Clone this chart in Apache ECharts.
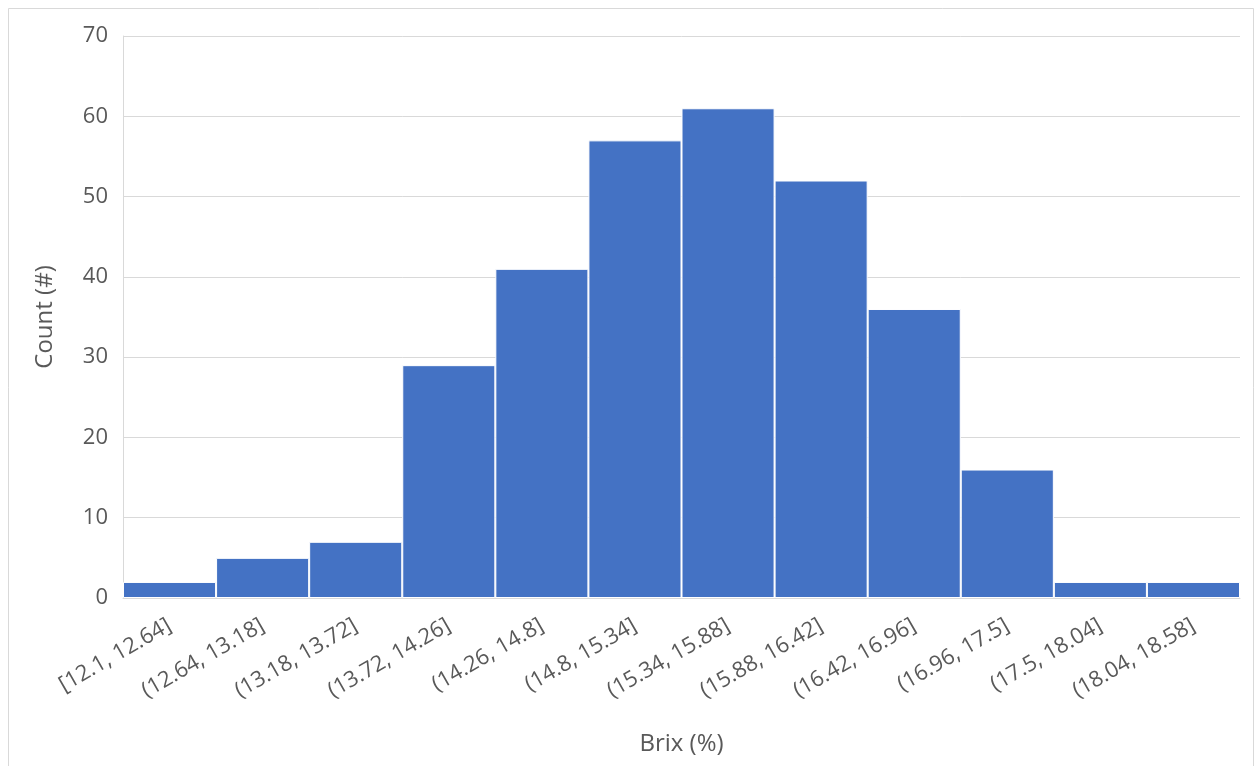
<!DOCTYPE html>
<html>
<head>
<meta charset="utf-8">
<script src="https://cdn.jsdelivr.net/npm/echarts@6/dist/echarts.min.js"></script>
<style>
  html, body { margin: 0; padding: 0; background: #fff; }
  #plot { width: 1255px; height: 766px; }
</style>
</head>
<body>
<div id="plot"></div>
<script>
// histogram bins (Brix %) and counts
var bins = ['[12.1, 12.64]', '(12.64, 13.18]', '(13.18, 13.72]', '(13.72, 14.26]',
  '(14.26, 14.8]', '(14.8, 15.34]', '(15.34, 15.88]', '(15.88, 16.42]',
  '(16.42, 16.96]', '(16.96, 17.5]', '(17.5, 18.04]', '(18.04, 18.58]'];
var counts = [2, 5, 7, 29, 41, 57, 61, 52, 36, 16, 2, 2];

var textColor = '#595959';
var font = '"Open Sans", "Noto Sans", sans-serif';

var myChart = echarts.init(document.getElementById('plot'));

var option = {
  animation: false,
  backgroundColor: '#fff',
  textStyle: { fontFamily: font },
  graphic: [{
    type: 'rect',
    shape: { x: 8.5, y: 8.5, width: 1245, height: 770 },
    style: { fill: 'none', stroke: '#d9d9d9', lineWidth: 1 },
    silent: true
  }],
  grid: { left: 123, right: 15, top: 36, bottom: 168 },
  xAxis: {
    type: 'category',
    data: bins,
    name: 'Brix (%)',
    nameLocation: 'middle',
    nameGap: 134,
    nameTextStyle: { color: textColor, fontSize: 24, fontFamily: font },
    axisLine: { lineStyle: { color: '#d9d9d9', width: 1 } },
    axisTick: { show: false },
    axisLabel: { rotate: 30, color: textColor, fontSize: 22, margin: 26, fontFamily: font, interval: 0 }
  },
  yAxis: {
    type: 'value',
    min: 0,
    max: 70,
    interval: 10,
    name: 'Count (#)',
    nameLocation: 'middle',
    nameGap: 66,
    nameTextStyle: { color: textColor, fontSize: 24, fontFamily: font },
    axisLine: { show: true, lineStyle: { color: '#d9d9d9', width: 1 } },
    axisTick: { show: false },
    axisLabel: { color: textColor, fontSize: 22, margin: 15, fontFamily: font },
    splitLine: { lineStyle: { color: '#d9d9d9', width: 1 } }
  },
  series: [{
    type: 'bar',
    data: counts,
    barCategoryGap: 0,
    itemStyle: { color: '#4472c4', borderColor: '#ffffff', borderWidth: 1 }
  }]
};

myChart.setOption(option);
</script>
</body>
</html>
